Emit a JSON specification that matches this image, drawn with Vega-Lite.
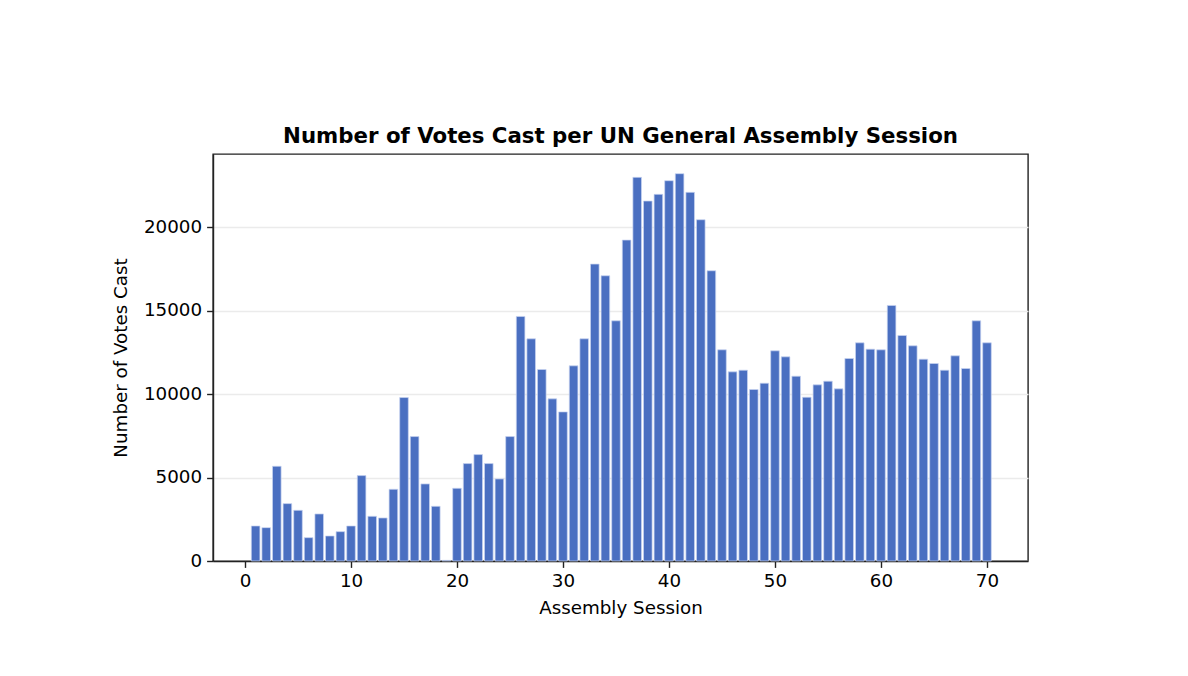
{
  "$schema": "https://vega.github.io/schema/vega-lite/v6.json",
  "autosize": {"type": "none"},
  "padding": {"left": 213, "top": 154, "right": 160, "bottom": 115},
  "width": 815,
  "height": 407,
  "background": "white",
  "title": {
    "text": "Number of Votes Cast per UN General Assembly Session",
    "font": "DejaVu Sans",
    "fontSize": 21.3,
    "fontWeight": "bold",
    "color": "black",
    "anchor": "middle",
    "baseline": "alphabetic",
    "offset": -10
  },
  "config": {
    "view": {"stroke": "#222222", "strokeWidth": 1.4},
    "axis": {
      "labelFont": "DejaVu Sans",
      "titleFont": "DejaVu Sans",
      "labelFontSize": 18.3,
      "titleFontSize": 18.3,
      "titleFontWeight": "normal",
      "labelColor": "black",
      "titleColor": "black",
      "domainColor": "#222222",
      "domainWidth": 1.4,
      "tickColor": "#222222",
      "tickWidth": 1.4,
      "tickSize": 6.4,
      "labelPadding": 5
    }
  },
  "data": {
    "values": [
      {"session": 1, "votes": 2100},
      {"session": 2, "votes": 2000},
      {"session": 3, "votes": 5680},
      {"session": 4, "votes": 3440},
      {"session": 5, "votes": 3040},
      {"session": 6, "votes": 1400},
      {"session": 7, "votes": 2820},
      {"session": 8, "votes": 1500},
      {"session": 9, "votes": 1760},
      {"session": 10, "votes": 2100},
      {"session": 11, "votes": 5120},
      {"session": 12, "votes": 2680},
      {"session": 13, "votes": 2580},
      {"session": 14, "votes": 4300},
      {"session": 15, "votes": 9800},
      {"session": 16, "votes": 7460},
      {"session": 17, "votes": 4620},
      {"session": 18, "votes": 3280},
      {"session": 19, "votes": 40},
      {"session": 20, "votes": 4360},
      {"session": 21, "votes": 5840},
      {"session": 22, "votes": 6380},
      {"session": 23, "votes": 5840},
      {"session": 24, "votes": 4920},
      {"session": 25, "votes": 7460},
      {"session": 26, "votes": 14660},
      {"session": 27, "votes": 13320},
      {"session": 28, "votes": 11480},
      {"session": 29, "votes": 9720},
      {"session": 30, "votes": 8940},
      {"session": 31, "votes": 11700},
      {"session": 32, "votes": 13320},
      {"session": 33, "votes": 17800},
      {"session": 34, "votes": 17100},
      {"session": 35, "votes": 14400},
      {"session": 36, "votes": 19240},
      {"session": 37, "votes": 23000},
      {"session": 38, "votes": 21580},
      {"session": 39, "votes": 21980},
      {"session": 40, "votes": 22800},
      {"session": 41, "votes": 23220},
      {"session": 42, "votes": 22100},
      {"session": 43, "votes": 20460},
      {"session": 44, "votes": 17400},
      {"session": 45, "votes": 12660},
      {"session": 46, "votes": 11340},
      {"session": 47, "votes": 11440},
      {"session": 48, "votes": 10280},
      {"session": 49, "votes": 10660},
      {"session": 50, "votes": 12600},
      {"session": 51, "votes": 12240},
      {"session": 52, "votes": 11080},
      {"session": 53, "votes": 9820},
      {"session": 54, "votes": 10560},
      {"session": 55, "votes": 10780},
      {"session": 56, "votes": 10320},
      {"session": 57, "votes": 12140},
      {"session": 58, "votes": 13080},
      {"session": 59, "votes": 12700},
      {"session": 60, "votes": 12660},
      {"session": 61, "votes": 15320},
      {"session": 62, "votes": 13520},
      {"session": 63, "votes": 12900},
      {"session": 64, "votes": 12100},
      {"session": 65, "votes": 11840},
      {"session": 66, "votes": 11440},
      {"session": 67, "votes": 12300},
      {"session": 68, "votes": 11540},
      {"session": 69, "votes": 14400},
      {"session": 70, "votes": 13080}
    ]
  },
  "mark": {
    "type": "bar",
    "size": 8.6,
    "color": "#4a6fc1",
    "stroke": "#c8d4f0",
    "strokeWidth": 0.7
  },
  "encoding": {
    "x": {
      "field": "session",
      "type": "quantitative",
      "title": "Assembly Session",
      "scale": {"domain": [-3.02, 73.87], "nice": false, "zero": false, "padding": 0},
      "axis": {
        "values": [0, 10, 20, 30, 40, 50, 60, 70],
        "grid": false,
        "titlePadding": 10
      }
    },
    "y": {
      "field": "votes",
      "type": "quantitative",
      "title": "Number of Votes Cast",
      "scale": {"domain": [0, 24400], "nice": false},
      "axis": {
        "values": [0, 5000, 10000, 15000, 20000],
        "format": "d",
        "grid": true,
        "gridColor": "#ebebeb",
        "gridWidth": 1.4,
        "titlePadding": 13
      }
    }
  }
}
